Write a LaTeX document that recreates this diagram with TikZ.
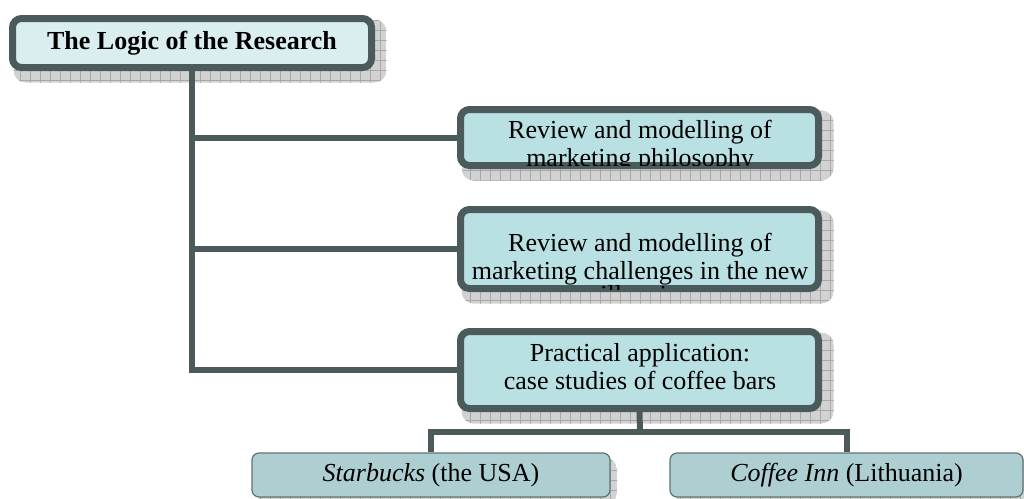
\documentclass[tikz,border=0pt]{standalone}
\usepackage{fontspec}
\setmainfont{Liberation Serif}
\usetikzlibrary{calc,backgrounds}
\definecolor{bordc}{HTML}{4B5B5C}
\definecolor{rootfill}{HTML}{DAEEF0}
\definecolor{boxfill}{HTML}{B9E0E3}
\definecolor{leaffill}{HTML}{AECFD2}
\definecolor{leafbord}{HTML}{627172}
\definecolor{shadowgray}{HTML}{D2D2D2}
\definecolor{gridgray}{HTML}{A8A8A8}
\newcommand\boxfont{\fontsize{26}{28}\selectfont}
\newcommand\mkshadow[3]{%
  \begin{scope}
    \path[clip, rounded corners=12] ($(#1.north west)+(#2-#3,#2-#3)$) rectangle ($(#1.south east)+(#2+#3,#2+#3)$);
    \fill[shadowgray] ($(#1.north west)+(#2-#3,#2-#3)$) rectangle ($(#1.south east)+(#2+#3,#2+#3)$);
    \foreach \k in {0,10,...,1030} \draw[gridline] (\k,0) -- (\k,510);
    \foreach \k in {0,10,...,510} \draw[gridline] (0,\k) -- (1030,\k);
  \end{scope}}
\tikzset{
  gridline/.style={draw=gridgray, line width=0.6},
  mainbox/.style={draw=bordc, line width=7, rounded corners=9, inner sep=0, fill=boxfill},
  leafbox/.style={draw=leafbord, line width=1.2, rounded corners=7, inner sep=0, fill=leaffill,
    minimum height=44, font=\boxfont},
  conn/.style={draw=bordc, line width=6},
  txt/.style={anchor=base, inner sep=0, font=\boxfont},
}
\begin{document}
\begin{tikzpicture}[x=1pt,y=-1pt]
\useasboundingbox (0,0) rectangle (1024,498);
% boxes
\node[mainbox, fill=rootfill, minimum width=359, minimum height=49, font=\boxfont\bfseries] (root) at (192,43) {The Logic of the Research};
\node[mainbox, minimum width=358, minimum height=56] (b2) at (639.5,137.5) {};
\node[mainbox, minimum width=358, minimum height=79] (b3) at (639.5,249) {};
\node[mainbox, minimum width=358, minimum height=77] (b4) at (639.5,370) {};
\node[leafbox, minimum width=358] (s) at (431,475) {\textit{Starbucks} (the USA)};
\node[leafbox, minimum width=353] (c) at (846.5,475) {\textit{Coffee Inn} (Lithuania)};
% shadows
\begin{scope}[on background layer]
  \mkshadow{root}{8}{3.5}
  \mkshadow{b2}{8}{3.5}
  \mkshadow{b3}{8}{3.5}
  \mkshadow{b4}{8}{3.5}
  \mkshadow{s}{6}{0.6}
  \mkshadow{c}{6}{0.6}
\end{scope}
% texts, clipped to the box interiors
\begin{scope}
  \clip ($(b2.north west)+(3.5,3.5)$) rectangle ($(b2.south east)+(-3.5,-3.5)$);
  \node[txt] (t2a) at (640,138) {Review and modelling of};
  \node[txt] (t2b) at (640,166) {marketing philosophy};
\end{scope}
\begin{scope}
  \clip ($(b3.north west)+(3.5,3.5)$) rectangle ($(b3.south east)+(-3.5,-2.5)$);
  \node[txt] (t3a) at (640,251) {Review and modelling of};
  \node[txt] (t3b) at (640,279) {marketing challenges in the new};
  \node[txt] (t3c) at (640,303.5) {millennium};
\end{scope}
\node[txt] (t4a) at (640,361) {Practical application:};
\node[txt] (t4b) at (640,389) {case studies of coffee bars};
% connectors
\coordinate (j) at (640,432);
\draw[conn] (root.south) -- (root.south |- b4.west) -- (b4.west);
\draw[conn] (root.south |- b2.west) -- (b2.west);
\draw[conn] (root.south |- b3.west) -- (b3.west);
\draw[conn] (b4.south) -- (j);
\draw[conn] (s.north) |- (j) -| (c.north);
\end{tikzpicture}
\end{document}
